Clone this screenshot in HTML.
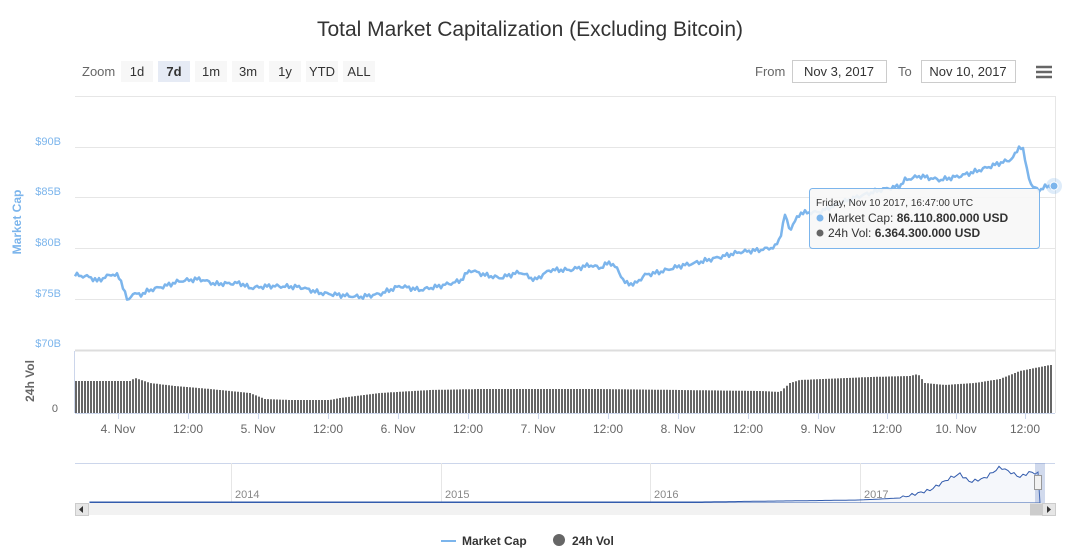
<!DOCTYPE html>
<html><head><meta charset="utf-8"><style>
body{margin:0;background:#fff;font-family:"Liberation Sans",Arial,sans-serif;}
svg text{font-family:"Liberation Sans",Arial,sans-serif;}
</style></head><body>
<svg id="s" width="1075" height="553" xmlns="http://www.w3.org/2000/svg">
<rect width="1075" height="553" fill="#fff"/>
<text x="530" y="36" text-anchor="middle" font-size="21" fill="#333">Total Market Capitalization (Excluding Bitcoin)</text>
<text x="82" y="76" font-size="13" fill="#666">Zoom</text>
<g font-size="13" fill="#333" text-anchor="middle">
<rect x="121" y="61" width="32" height="21" fill="#f7f7f7"/><text x="137" y="76">1d</text>
<rect x="158" y="61" width="32" height="21" fill="#e6ebf5"/><text x="174" y="76" font-weight="bold">7d</text>
<rect x="195" y="61" width="32" height="21" fill="#f7f7f7"/><text x="211" y="76">1m</text>
<rect x="232" y="61" width="32" height="21" fill="#f7f7f7"/><text x="248" y="76">3m</text>
<rect x="269" y="61" width="32" height="21" fill="#f7f7f7"/><text x="285" y="76">1y</text>
<rect x="306" y="61" width="32" height="21" fill="#f7f7f7"/><text x="322" y="76">YTD</text>
<rect x="343" y="61" width="32" height="21" fill="#f7f7f7"/><text x="359" y="76">ALL</text>
</g>
<text x="755" y="76" font-size="13" fill="#666">From</text>
<rect x="792.5" y="60.5" width="94" height="22" fill="#fff" stroke="#ccc"/>
<text x="839" y="76" font-size="13" fill="#333" text-anchor="middle">Nov 3, 2017</text>
<text x="898" y="76" font-size="13" fill="#666">To</text>
<rect x="921.5" y="60.5" width="94" height="22" fill="#fff" stroke="#ccc"/>
<text x="968" y="76" font-size="13" fill="#333" text-anchor="middle">Nov 10, 2017</text>
<g stroke="#666" stroke-width="2.5"><line x1="1036" y1="67" x2="1052" y2="67"/><line x1="1036" y1="72" x2="1052" y2="72"/><line x1="1036" y1="77" x2="1052" y2="77"/></g>
<g stroke="#e6e6e6"><line x1="75" y1="96.5" x2="1055" y2="96.5"/><line x1="75" y1="147.5" x2="1055" y2="147.5"/><line x1="75" y1="197.5" x2="1055" y2="197.5"/><line x1="75" y1="248.5" x2="1055" y2="248.5"/><line x1="75" y1="299.5" x2="1055" y2="299.5"/><line x1="75" y1="350.5" x2="1055" y2="350.5" stroke="#ddd" stroke-width="2"/><line x1="1055.5" y1="96" x2="1055.5" y2="413"/></g>
<line x1="74.5" y1="351" x2="74.5" y2="413" stroke="#ccd6eb"/>
<g font-size="11" fill="#7cb5ec" text-anchor="end"><text x="61" y="145">$90B</text><text x="61" y="195">$85B</text><text x="61" y="246">$80B</text><text x="61" y="297">$75B</text><text x="61" y="347">$70B</text></g>
<text transform="translate(21,222) rotate(-90)" font-size="12" font-weight="bold" fill="#7cb5ec" text-anchor="middle">Market Cap</text>
<text transform="translate(34,381) rotate(-90)" font-size="12" font-weight="bold" fill="#666" text-anchor="middle">24h Vol</text>
<text x="58" y="412" font-size="11" fill="#666" text-anchor="end">0</text>
<g id="bars"></g>
<line x1="75" y1="413.5" x2="1055" y2="413.5" stroke="#ccd6eb"/>
<g id="ticks" font-size="12" fill="#666" text-anchor="middle"></g>
<path id="mc" fill="none" stroke="#7cb5ec" stroke-width="2.5" stroke-linejoin="round"/>
<circle cx="1054" cy="186" r="8" fill="#7cb5ec" opacity="0.25"/><circle cx="1054" cy="186" r="4" fill="#7cb5ec" stroke="#fff"/>
<rect x="809.5" y="188.5" width="230" height="60" fill="#f7f7f7" fill-opacity="0.9" stroke="#7cb5ec" rx="3"/>
<text x="816" y="206" font-size="10" fill="#333">Friday, Nov 10 2017, 16:47:00 UTC</text>
<circle cx="820" cy="218" r="3.5" fill="#7cb5ec"/><text x="828" y="222" font-size="12" fill="#333">Market Cap: <tspan font-weight="bold">86.110.800.000 USD</tspan></text>
<circle cx="820" cy="233" r="3.5" fill="#666"/><text x="828" y="237" font-size="12" fill="#333">24h Vol: <tspan font-weight="bold">6.364.300.000 USD</tspan></text>
<line x1="75" y1="463.5" x2="1055" y2="463.5" stroke="#ccd6eb"/>
<g stroke="#e6e6e6"><line x1="231.5" y1="463" x2="231.5" y2="503"/><line x1="441.5" y1="463" x2="441.5" y2="503"/><line x1="650.5" y1="463" x2="650.5" y2="503"/><line x1="860.5" y1="463" x2="860.5" y2="503"/></g>
<g font-size="11" fill="#888"><text x="235" y="498">2014</text><text x="445" y="498">2015</text><text x="654" y="498">2016</text><text x="864" y="498">2017</text></g>
<path id="nav" fill="rgba(51,92,173,0.05)" stroke="#335cad" stroke-width="1"/>
<rect x="1035" y="463" width="10" height="40" fill="rgba(102,133,194,0.3)"/>
<rect x="1034.5" y="475.5" width="7" height="14" fill="#f2f2f2" stroke="#999"/>
<rect x="75" y="503" width="980" height="12" fill="#f2f2f2"/>
<rect x="75.5" y="503.5" width="13" height="12" fill="#e6e6e6" stroke="#ccc"/>
<path d="M83 506 L79 509.5 L83 513Z" fill="#333"/>
<rect x="1042.5" y="503.5" width="13" height="12" fill="#e6e6e6" stroke="#ccc"/>
<path d="M1047 506 L1051 509.5 L1047 513Z" fill="#333"/>
<rect x="1030" y="503.5" width="12" height="12" fill="#ccc"/>
<line x1="441" y1="541" x2="456" y2="541" stroke="#7cb5ec" stroke-width="2"/>
<text x="462" y="545" font-size="12" font-weight="bold" fill="#333">Market Cap</text>
<circle cx="559" cy="540" r="6" fill="#666"/>
<text x="572" y="545" font-size="12" font-weight="bold" fill="#333">24h Vol</text>
</svg>
<script>
var NS="http://www.w3.org/2000/svg";
var P=[[75,275],[90,277],[97,281],[112,274],[118,276],[122,283],[128,303],[132,293],[140,295],[150,290],[165,286],[180,281],[200,279],[215,284],[240,283],[250,288],[270,286],[300,287],[320,293],[340,295],[360,297],[380,294],[400,286],[420,290],[440,286],[460,281],[470,270],[485,275],[500,278],[510,275],[520,272],[535,280],[550,270],[570,270],[590,265],[600,268],[610,262],[618,270],[625,283],[635,284],[645,275],[660,272],[680,266],[700,262],[720,257],[740,252],[760,250],[775,247],[780,238],[785,215],[790,230],[800,213],[820,212],[840,203],[860,196],[880,190],[900,186],[905,180],[920,176],[940,180],[960,176],[980,170],[1000,163],[1010,160],[1015,155],[1020,145],[1023,150],[1027,170],[1032,187],[1040,190],[1047,186],[1054,186]];
function interp(A,x){for(var i=1;i<A.length;i++){if(x<=A[i][0]){var a=A[i-1],b=A[i],t=(x-a[0])/(b[0]-a[0]);return a[1]+t*(b[1]-a[1]);}}return A[A.length-1][1];}
var d="",s=1;for(var x=75;x<=1054;x+=2){var y=interp(P,x)+Math.sin(x*1.7)*1.5+Math.sin(x*0.63)*1.2;d+=(x==75?"M":"L")+x+" "+y.toFixed(1);}
document.getElementById("mc").setAttribute("d",d);
var V=[[75,381],[130,381],[135,378],[150,383],[175,386],[210,389],[250,393],[265,399],[290,400],[330,400],[340,398],[380,393],[430,390],[480,389],[600,389],[680,390],[760,391],[780,392],[790,383],[800,380],[870,377],[910,376],[918,374],[925,383],[945,385],[975,383],[1000,379],[1020,371],[1050,365],[1055,365]];
var g=document.getElementById("bars"),b="";for(var x=76;x<1054;x+=3){var y=interp(V,x);b+="M"+x+" 413V"+y.toFixed(1);}
var p=document.createElementNS(NS,"path");p.setAttribute("d",b);p.setAttribute("stroke","#666");p.setAttribute("stroke-width","2");g.appendChild(p);
var T=[[118,"4. Nov"],[188,"12:00"],[258,"5. Nov"],[328,"12:00"],[398,"6. Nov"],[468,"12:00"],[538,"7. Nov"],[608,"12:00"],[678,"8. Nov"],[748,"12:00"],[818,"9. Nov"],[887,"12:00"],[956,"10. Nov"],[1025,"12:00"]];
var tg=document.getElementById("ticks");T.forEach(function(t){var l=document.createElementNS(NS,"line");l.setAttribute("x1",t[0]+.5);l.setAttribute("x2",t[0]+.5);l.setAttribute("y1",413);l.setAttribute("y2",419);l.setAttribute("stroke","#ccd6eb");tg.appendChild(l);var e=document.createElementNS(NS,"text");e.setAttribute("x",t[0]);e.setAttribute("y",433);e.textContent=t[1];tg.appendChild(e);});
var N=[[90,502],[700,502],[860,500],[900,498],[930,490],[950,478],[960,474],[970,482],[985,478],[1000,467],[1010,472],[1020,477],[1030,472],[1040,474]];
var nd="M90 503";for(var x=90;x<=1040;x+=3){var y=interp(N,x);if(x>900)y+=Math.sin(x*1.3)*1.5;nd+="L"+x+" "+y.toFixed(1);}nd+="L1040 503Z";
document.getElementById("nav").setAttribute("d",nd);
</script>
</body></html>
